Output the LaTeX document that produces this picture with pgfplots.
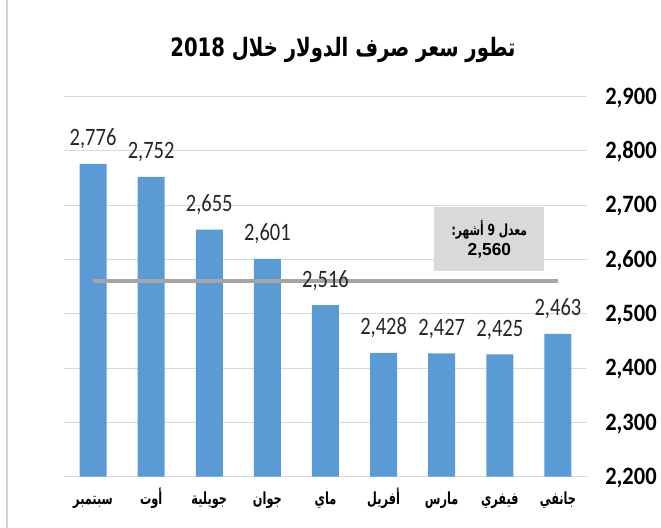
\documentclass[border=0pt]{standalone}
\usepackage{fontspec}
\setmainfont{Carlito}
\newfontfamily\arabicfont[Script=Arabic]{DejaVu Sans}
\newfontfamily\arabictitle[Script=Arabic, FakeStretch=0.775]{DejaVu Sans}
\newfontfamily\arabiclabel[Script=Arabic, FakeStretch=0.68]{DejaVu Sans}
\newfontfamily\arabicbox[Script=Arabic, FakeStretch=0.7]{DejaVu Sans}
\newfontfamily\datafont[FakeStretch=0.82]{Carlito}
\newfontfamily\tickfont[FakeStretch=0.9]{Carlito}
\newfontfamily\arialfont{Liberation Sans}
\TeXXeTstate=1
\usepackage{pgfplots}
\pgfplotsset{compat=1.18}
\definecolor{barblue}{HTML}{5B9BD5}
\definecolor{gridgray}{HTML}{D9D9D9}
\definecolor{meangray}{HTML}{A5A5A5}
\definecolor{boxgray}{HTML}{D9D9D9}
\newcommand{\xl}[1]{\arabiclabel\bfseries\beginR #1\endR}
\begin{document}
\begin{tikzpicture}
\path[use as bounding box] (0pt,0pt) rectangle (495.75pt,396pt);
\draw[gray!35, line width=1.2pt] (5.25pt,0pt) -- (5.25pt,396pt);
\begin{axis}[
  at={(48pt,38.5pt)}, anchor=south west,
  scale only axis, width=392.25pt, height=285.15pt,
  xmin=-0.5, xmax=8.5, ymin=2200, ymax=2900,
  ytick={2200,2300,...,2900},
  xtick={0,...,8},
  xticklabels={{\xl{سبتمبر}},{\xl{أوت}},{\xl{جويلية}},{\xl{جوان}},{\xl{ماي}},{\xl{أفريل}},{\xl{مارس}},{\xl{فيفري}},{\xl{جانفي}}},
  axis line style={draw=none},
  tick style={draw=none},
  ymajorgrids, grid style={gridgray, line width=0.8pt},
  yticklabel pos=right,
  /pgf/number format/assume math mode=true,
  /pgf/number format/1000 sep={,},
  yticklabel style={font=\tickfont\bfseries\fontsize{18.75}{20}\selectfont, anchor=base west, inner sep=0pt, xshift=13.5pt, yshift=-5.9pt},
  xticklabel style={font=\fontsize{12.5}{13}\selectfont, anchor=base, inner sep=0pt, yshift=-21pt},
  clip=false,
]
\addplot[ybar, bar width=20.25pt, fill=barblue, draw=none,
  nodes near coords,
  every node near coord/.append style={font=\datafont\fontsize{18.75}{20}\selectfont, text=black!85, anchor=base, inner sep=0pt, yshift=13.5pt}]
  coordinates {(0,2776) (1,2752) (2,2655) (3,2601) (4,2516) (5,2428) (6,2427) (7,2425) (8,2463)};
\addplot[meangray, line width=2.6pt] coordinates {(0,2560) (8,2560)};
\node[fill=boxgray, minimum width=82.5pt, minimum height=48pt, inner sep=0pt, align=center]
  at (axis cs:6.82,2637.7) {{\arabicbox\bfseries\fontsize{11.5}{16.5}\selectfont\beginR معدل \beginL9\endL{} أشهر:\endR}\\[3pt]{\arialfont\bfseries\fontsize{13}{14}\selectfont 2,560}};
\end{axis}
\node[anchor=base] at (257.25pt,353.5pt) {\arabictitle\bfseries\fontsize{19}{22}\selectfont\beginR تطور سعر صرف الدولار خلال \beginL2018\endL\endR};
\end{tikzpicture}
\end{document}
